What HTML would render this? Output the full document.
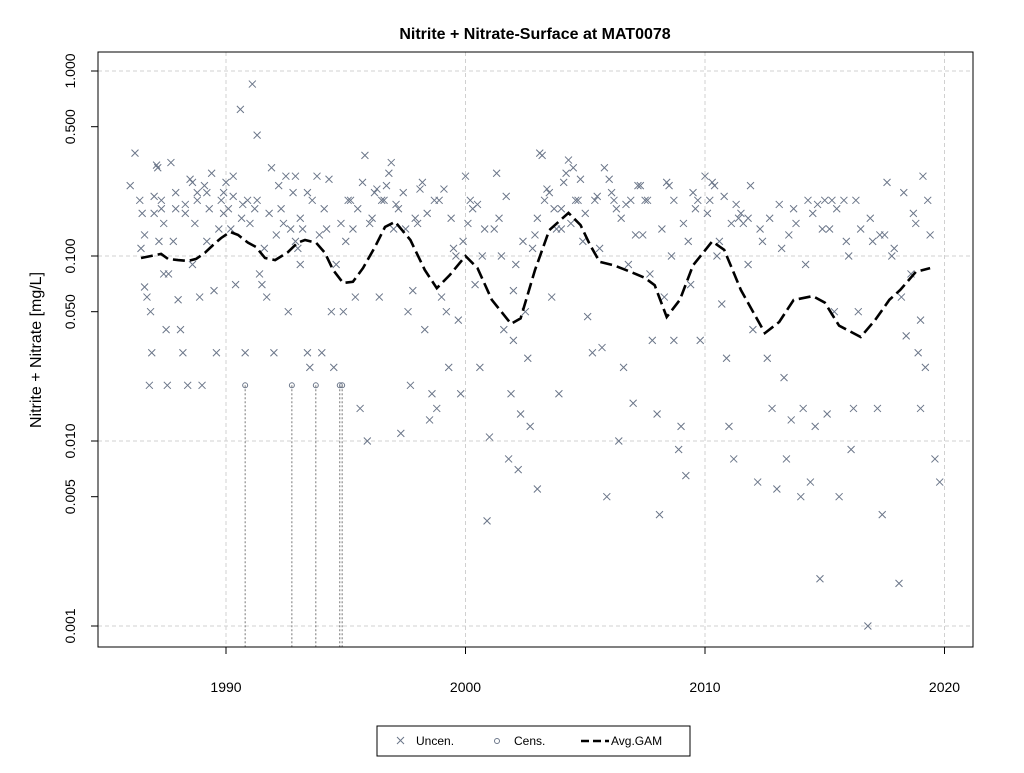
<!DOCTYPE html>
<html><head><meta charset="utf-8">
<style>
body{margin:0;background:#fff;}
svg text{font-family:"Liberation Sans",Arial,sans-serif;}
</style></head>
<body>
<svg id="chart" width="1024" height="768" xmlns="http://www.w3.org/2000/svg">
<rect width="1024" height="768" fill="#fff"/>
<text x="535" y="39" text-anchor="middle" font-size="16" font-weight="bold">Nitrite + Nitrate-Surface at MAT0078</text>
<text transform="translate(41,350) rotate(-90)" text-anchor="middle" font-size="16">Nitrite + Nitrate [mg/L]</text>
<g id="grid"></g>
<g id="axes"></g>
<g id="cens"></g>
<g id="pts"></g>
<path id="gam" fill="none" stroke="#000" stroke-width="2.6" stroke-dasharray="12,5"/>
<rect x="98" y="52" width="875" height="595" fill="none" stroke="#000" stroke-width="1"/>
<g>
<rect x="377" y="726" width="313" height="30" fill="#fff" stroke="#000"/>
<g><path d="M397,737 l7,7 M404,737 l-7,7" stroke="#6b7689" stroke-width="1"/><text x="416" y="745" font-size="12">Uncen.</text></g>
<g><circle cx="497" cy="741" r="2.5" fill="none" stroke="#6b7689"/><text x="514" y="745" font-size="12">Cens.</text></g>
<g><path d="M581,741 h28" stroke="#000" stroke-width="2.6" stroke-dasharray="8,4"/><text x="611" y="745" font-size="12">Avg.GAM</text></g>
</g>
</svg>
<script>
const xTicks=[1990,2000,2010,2020];
const yTicks=[0.001,0.005,0.010,0.050,0.100,0.500,1.000];
const yTickLabels=["0.001","0.005","0.010","0.050","0.100","0.500","1.000"];
const yGrid=[0.001,0.01,0.1,1];
const gamYears=[1986.45,1986.87,1987.29,1987.58,1988.0,1988.41,1988.75,1989.12,1989.46,1989.79,1990.17,1990.5,1990.92,1991.25,1991.63,1992.05,1992.59,1992.99,1993.3,1993.76,1994.13,1994.47,1994.89,1995.3,1995.72,1996.22,1996.64,1997.06,1997.7,1998.3,1998.8,1999.35,2000.0,2000.5,2001.1,2001.9,2002.3,2002.9,2003.5,2004.3,2004.8,2005.2,2005.6,2006.2,2006.9,2007.5,2007.9,2008.4,2008.95,2009.5,2010.3,2010.8,2011.5,2012.5,2013.1,2013.7,2014.5,2015.0,2015.6,2016.5,2017.1,2017.7,2018.15,2018.8,2019.4];
const gamValues=[0.0975,0.1,0.1026,0.0965,0.095,0.094,0.0965,0.104,0.1147,0.125,0.135,0.13,0.118,0.112,0.0975,0.095,0.105,0.118,0.122,0.118,0.104,0.084,0.0715,0.0725,0.086,0.112,0.1435,0.153,0.122,0.084,0.067,0.079,0.1,0.086,0.058,0.043,0.046,0.084,0.138,0.171,0.147,0.115,0.093,0.089,0.082,0.076,0.0695,0.0468,0.058,0.089,0.12,0.108,0.0655,0.0383,0.044,0.0578,0.0607,0.056,0.042,0.0365,0.045,0.058,0.0655,0.082,0.086];
const censYears=[1990.8,1992.75,1993.75,1994.75,1994.85];
const censValues=[0.02,0.02,0.02,0.02,0.02];
const ptYears=[
1986.0,1986.2,1986.4,1986.45,1986.5,1986.6,1986.7,1986.8,1986.85,1986.9,
1987.0,1987.1,1987.15,1987.2,1987.3,1987.4,1987.5,1987.55,1987.6,1987.7,
1987.8,1987.9,1988.0,1988.1,1988.2,1988.3,1988.4,1988.5,1988.6,1988.7,
1988.8,1988.9,1989.0,1989.1,1989.2,1989.3,1989.4,1989.5,1989.7,1989.8,
1989.9,1990.0,1990.1,1990.2,1990.3,1990.4,1990.6,1990.65,1990.8,1990.9,
1991.1,1991.2,1991.3,1991.4,1991.5,1991.6,1991.7,1991.9,1992.0,1992.1,
1992.3,1992.4,1992.6,1992.8,1992.9,1993.0,1993.1,1993.2,1993.4,1993.5,
1993.6,1993.8,1994.0,1994.1,1994.2,1994.4,1994.5,1994.6,1994.9,1995.0,
1995.2,1995.4,1995.6,1995.7,1995.8,1995.9,1996.0,1996.2,1996.4,1996.6,
1996.8,1996.9,1997.0,1997.2,1997.3,1997.4,1997.6,1997.7,1997.8,1998.0,
1998.2,1998.3,1998.5,1998.6,1998.8,1998.9,1999.0,1999.2,1999.3,1999.5,
1999.7,1999.8,2000.0,2000.1,2000.2,2000.4,2000.6,2000.7,2000.9,2001.0,
2001.2,2001.3,2001.5,2001.6,2001.8,2001.9,2002.0,2002.2,2002.3,2002.5,
2002.6,2002.7,2002.8,2003.0,2003.1,2003.3,2003.5,2003.6,2003.8,2004.0,
2004.1,2004.3,2004.4,2004.6,2004.8,2004.9,2005.1,2005.3,2005.4,2005.6,
2005.7,2005.9,2006.0,2006.2,2006.4,2006.6,2006.8,2007.0,2007.2,2007.4,
2007.5,2007.7,2007.8,2008.0,2008.1,2008.3,2008.5,2008.6,2008.7,2008.9,
2009.0,2009.2,2009.4,2009.6,2009.8,2010.0,2010.2,2010.4,2010.5,2010.7,
2010.9,2011.0,2011.2,2011.4,2011.6,2011.8,2012.0,2012.2,2012.4,2012.6,
2012.8,2013.0,2013.2,2013.4,2013.6,2013.8,2014.0,2014.2,2014.4,2014.6,
2014.8,2015.0,2015.2,2015.4,2015.6,2015.8,2016.0,2016.2,2016.4,2016.8,
2017.0,2017.2,2017.4,2017.6,2017.8,2018.1,2018.2,2018.4,2018.6,2018.8,
2019.0,2019.2,2019.4,2019.6,2019.8,1987.3,1988.8,1989.6,1991.0,1992.5,
1996.5,1999.1,2002.0,2003.9,2006.9,2008.7,2011.8,2014.1,2017.3,2019.0,
1986.6,1987.0,1987.4,1987.9,1988.3,1988.6,1989.2,1989.9,1990.3,1990.7,
1991.3,1991.8,1992.2,1992.7,1993.1,1993.4,1993.9,1994.3,1994.8,1995.1,
1995.5,1996.1,1996.7,1997.1,1997.5,1998.1,1998.4,1998.7,1999.4,1999.9,
2000.3,2000.8,2001.4,2001.7,2002.4,2002.9,2003.2,2003.4,2003.7,2004.2,
2004.5,2004.7,2005.0,2005.5,2005.8,2006.1,2006.5,2006.7,2007.1,2007.3,
2007.6,2008.2,2008.4,2009.1,2009.5,2009.7,2010.1,2010.3,2010.6,2011.1,
2011.3,2011.5,2011.9,2012.3,2012.7,2013.1,2013.5,2013.7,2014.3,2014.5,
2014.7,2014.9,2015.3,2015.5,2015.9,2016.3,2016.5,2016.9,2017.5,2017.9,
2018.3,2018.7,2019.1,2019.3,1996.3,1997.9,2000.5,2003.0,2004.0,2006.3,
2009.3,2010.8,2013.3,2015.1,2016.1,2018.9,1992.9,1995.3,1999.6,2002.1];
const ptValues=[
0.24,0.36,0.2,0.11,0.17,0.068,0.06,0.02,0.05,0.03,
0.17,0.31,0.3,0.12,0.18,0.08,0.04,0.02,0.08,0.32,
0.12,0.18,0.058,0.04,0.03,0.17,0.02,0.26,0.09,0.15,
0.2,0.06,0.02,0.24,0.12,0.18,0.28,0.065,0.14,0.2,
0.22,0.25,0.18,0.14,0.21,0.07,0.62,0.16,0.03,0.2,
0.85,0.18,0.45,0.08,0.07,0.11,0.06,0.3,0.03,0.13,
0.18,0.15,0.05,0.22,0.27,0.11,0.09,0.14,0.03,0.025,
0.2,0.27,0.03,0.18,0.14,0.05,0.025,0.09,0.05,0.12,
0.2,0.06,0.015,0.25,0.35,0.01,0.15,0.22,0.06,0.2,
0.28,0.32,0.14,0.18,0.011,0.22,0.05,0.02,0.065,0.15,
0.25,0.04,0.013,0.018,0.015,0.2,0.06,0.05,0.025,0.11,
0.045,0.018,0.27,0.15,0.2,0.07,0.025,0.1,0.0037,0.0105,
0.14,0.28,0.1,0.04,0.008,0.018,0.035,0.007,0.014,0.05,
0.028,0.012,0.11,0.0055,0.36,0.2,0.22,0.06,0.14,0.18,
0.25,0.33,0.15,0.2,0.26,0.12,0.047,0.03,0.2,0.11,
0.032,0.005,0.26,0.2,0.01,0.025,0.09,0.016,0.24,0.13,
0.2,0.08,0.035,0.014,0.004,0.06,0.24,0.1,0.035,0.009,
0.012,0.0065,0.07,0.18,0.035,0.27,0.2,0.24,0.1,0.055,
0.028,0.012,0.008,0.16,0.15,0.09,0.04,0.006,0.12,0.028,
0.015,0.0055,0.11,0.008,0.013,0.15,0.005,0.09,0.006,0.012,
0.0018,0.2,0.14,0.05,0.005,0.2,0.1,0.015,0.05,0.001,
0.12,0.015,0.004,0.25,0.1,0.0017,0.06,0.037,0.08,0.15,
0.045,0.025,0.13,0.008,0.006,0.2,0.22,0.03,0.15,0.27,
0.2,0.23,0.065,0.018,0.2,0.2,0.16,0.015,0.13,0.015,
0.13,0.21,0.15,0.22,0.19,0.25,0.22,0.17,0.27,0.19,
0.2,0.17,0.24,0.14,0.16,0.22,0.13,0.26,0.15,0.2,
0.18,0.16,0.24,0.19,0.14,0.23,0.17,0.2,0.16,0.12,
0.18,0.14,0.16,0.21,0.12,0.13,0.35,0.23,0.18,0.28,
0.3,0.2,0.17,0.21,0.3,0.22,0.16,0.19,0.13,0.24,
0.2,0.14,0.25,0.15,0.22,0.2,0.17,0.25,0.12,0.15,
0.19,0.17,0.24,0.14,0.16,0.19,0.13,0.18,0.2,0.17,
0.19,0.14,0.2,0.18,0.12,0.2,0.14,0.16,0.13,0.11,
0.22,0.17,0.27,0.2,0.23,0.16,0.19,0.16,0.14,0.18,
0.12,0.21,0.022,0.014,0.009,0.03,0.12,0.14,0.1,0.09];

const X0=98,X1=973,Y0=52,Y1=647;
function xs(y){return 226+(y-1990)*23.95;}
function ys(v){return 71-Math.log10(v)*185;}
const NS="http://www.w3.org/2000/svg";
function mk(tag,attrs,parent){const e=document.createElementNS(NS,tag);for(const k in attrs)e.setAttribute(k,attrs[k]);parent.appendChild(e);return e;}
const grid=document.getElementById('grid'),axes=document.getElementById('axes');
xTicks.forEach(t=>{
  const l=mk('line',{x1:xs(t),x2:xs(t),y1:Y0,y2:Y1,stroke:'#d0d0d0','stroke-dasharray':'4,3'},grid);
  
  
  const tk=mk('line',{x1:xs(t),x2:xs(t),y1:Y1,y2:Y1+7,stroke:'#000'},axes);
  
  
  const tx=mk('text',{x:xs(t),y:692,'text-anchor':'middle','font-size':'14'},axes);
  tx.textContent=t;
  
  
});
yGrid.forEach(v=>{
  const l=mk('line',{x1:X0,x2:X1,y1:ys(v),y2:ys(v),stroke:'#d0d0d0','stroke-dasharray':'4,3'},grid);
  
  
});
yTicks.forEach((v,i)=>{
  const tk=mk('line',{x1:X0-7,x2:X0,y1:ys(v),y2:ys(v),stroke:'#000'},axes);
  
  
  const tx=mk('text',{transform:`translate(75,${ys(v)}) rotate(-90)`,'text-anchor':'middle','font-size':'14'},axes);
  tx.textContent=yTickLabels[i];
  
  
});
const pts=document.getElementById('pts');
const n=Math.min(ptYears.length,ptValues.length);
for(let i=0;i<n;i++){
  const x=xs(ptYears[i]),y=ys(ptValues[i]);
  const p=mk('path',{d:`M${x-3.5},${y-3.5}l7,7M${x+3.5},${y-3.5}l-7,7`,stroke:'#6b7689','stroke-width':'1'},pts);
  
  
}
const cens=document.getElementById('cens');
censYears.forEach((yr,i)=>{
  const x=xs(yr),y=ys(censValues[i]);
  const l=mk('line',{x1:x,x2:x,y1:y,y2:Y1,stroke:'#777','stroke-dasharray':'2,2'},cens);
  
  
  const c=mk('circle',{cx:x,cy:y,r:2.5,fill:'none',stroke:'#6b7689'},cens);
  
  
});
document.getElementById('gam').setAttribute('d',gamYears.map((yr,i)=>(i?'L':'M')+xs(yr).toFixed(1)+','+ys(gamValues[i]).toFixed(1)).join(''));
</script>
</body></html>
